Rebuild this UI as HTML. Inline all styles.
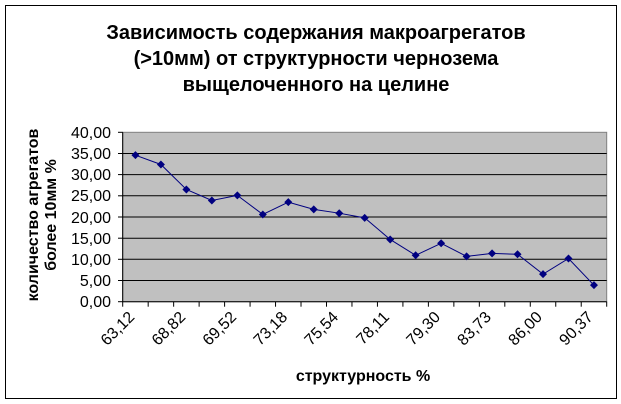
<!DOCTYPE html>
<html><head><meta charset="utf-8"><style>
body{margin:0;background:#fff;}
svg{display:block;font-family:"Liberation Sans",Arial,sans-serif;}
</style></head><body>
<svg width="621" height="404" viewBox="0 0 621 404">
<rect x="5.5" y="5.5" width="611" height="393" fill="#fff" stroke="#000" stroke-width="1"/>
<g font-weight="bold" font-size="20" text-anchor="middle" fill="#000">
<text x="316" y="39">Зависимость содержания макроагрегатов</text>
<text x="316" y="65">(&gt;10мм) от структурности чернозема</text>
<text x="316" y="91">выщелоченного на целине</text>
</g>
<rect x="122.7" y="132.3" width="484" height="169.4" fill="#c0c0c0" stroke="#808080" stroke-width="1"/>
<g stroke="#000" stroke-width="1">
<line x1="122.7" x2="606.7" y1="153.5" y2="153.5"/>
<line x1="122.7" x2="606.7" y1="174.6" y2="174.6"/>
<line x1="122.7" x2="606.7" y1="195.8" y2="195.8"/>
<line x1="122.7" x2="606.7" y1="217" y2="217"/>
<line x1="122.7" x2="606.7" y1="238.2" y2="238.2"/>
<line x1="122.7" x2="606.7" y1="259.3" y2="259.3"/>
<line x1="122.7" x2="606.7" y1="280.5" y2="280.5"/>
<line x1="122.7" x2="122.7" y1="132.3" y2="301.7"/>
<line x1="122.7" x2="606.7" y1="301.7" y2="301.7"/>
<line x1="118" x2="122.7" y1="132.3" y2="132.3"/>
<line x1="118" x2="122.7" y1="153.5" y2="153.5"/>
<line x1="118" x2="122.7" y1="174.6" y2="174.6"/>
<line x1="118" x2="122.7" y1="195.8" y2="195.8"/>
<line x1="118" x2="122.7" y1="217" y2="217"/>
<line x1="118" x2="122.7" y1="238.2" y2="238.2"/>
<line x1="118" x2="122.7" y1="259.3" y2="259.3"/>
<line x1="118" x2="122.7" y1="280.5" y2="280.5"/>
<line x1="118" x2="122.7" y1="301.7" y2="301.7"/>
</g>
<g stroke="#000" stroke-width="1" id="xt"></g>
<g font-size="16" text-anchor="end" fill="#000">
<text x="111" y="138">40,00</text><text x="111" y="159">35,00</text><text x="111" y="180">30,00</text>
<text x="111" y="201">25,00</text><text x="111" y="223">20,00</text><text x="111" y="244">15,00</text>
<text x="111" y="265">10,00</text><text x="111" y="286">5,00</text><text x="111" y="307">0,00</text>
</g>
<g font-weight="bold" font-size="16" text-anchor="middle" fill="#000">
<text transform="translate(38,215) rotate(-90)">количество агрегатов</text>
<text transform="translate(56,215) rotate(-90)">более 10мм %</text>
<text x="363" y="381">структурность %</text>
</g>
<g id="lbl" font-size="16" text-anchor="end" fill="#000"></g>
<polyline id="ln" fill="none" stroke="#000080" stroke-width="1"/>
<g id="mk" fill="#000080"></g>
<script>
var L=122.7,W=484/19,B=301.7,S=169.4/40;
var v=[34.6,32.4,26.5,23.9,25.1,20.6,23.5,21.8,20.9,19.8,14.7,10.96,13.8,10.7,11.4,11.2,6.5,10.2,3.9];
var labs=["63,12","68,82","69,52","73,18","75,54","78,11","79,30","83,73","86,00","90,37"];
var ns="http://www.w3.org/2000/svg",pts=[];
var xt=document.getElementById("xt"),mk=document.getElementById("mk"),lb=document.getElementById("lbl");
for(var i=0;i<=19;i++){var x=L+i*W;var l=document.createElementNS(ns,"line");l.setAttribute("x1",x);l.setAttribute("x2",x);l.setAttribute("y1",B);l.setAttribute("y2",B+5);xt.appendChild(l);}
for(var i=0;i<19;i++){var x=L+(i+.5)*W,y=B-v[i]*S;pts.push(x+","+y);
var p=document.createElementNS(ns,"polygon");p.setAttribute("points",(x)+","+(y-4)+" "+(x+4)+","+y+" "+x+","+(y+4)+" "+(x-4)+","+y);mk.appendChild(p);}
document.getElementById("ln").setAttribute("points",pts.join(" "));
for(var k=0;k<10;k++){var x=L+(2*k+.5)*W;var t=document.createElementNS(ns,"text");t.setAttribute("transform","translate("+x+",318) rotate(-45)");t.textContent=labs[k];lb.appendChild(t);}
</script>
</svg>
</body></html>
